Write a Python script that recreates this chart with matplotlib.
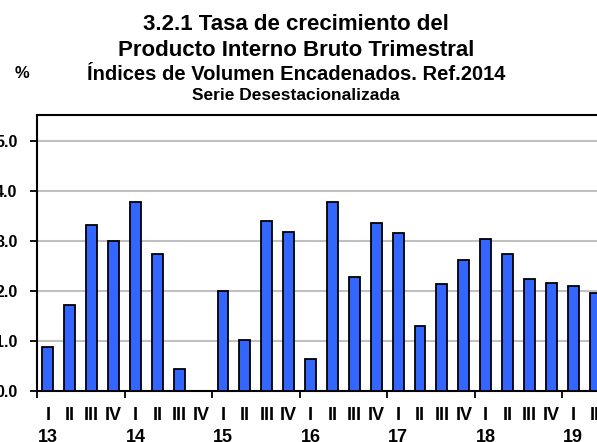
import numpy as np
import matplotlib
matplotlib.use("Agg")
import matplotlib.pyplot as plt
from matplotlib.transforms import blended_transform_factory

plt.rcParams['font.family'] = ['Liberation Sans', 'DejaVu Sans']
plt.rcParams['font.weight'] = 'bold'

# quarterly growth rate (%), 2013 Q1 .. 2019 Q2
quarters = ['I', 'II', 'III', 'IV'] * 6 + ['I', 'II']
years = ['13', '14', '15', '16', '17', '18', '19']
values = [0.89, 1.72, 3.32, 3.00,
          3.77, 2.73, 0.44, 0.00,
          2.00, 1.03, 3.39, 3.18,
          0.65, 3.77, 2.29, 3.35,
          3.15, 1.31, 2.14, 2.63,
          3.05, 2.73, 2.25, 2.17,
          2.11, 1.97]
yticks = [0.0, 1.0, 2.0, 3.0, 4.0, 5.0]

W, H = 597, 442
fig = plt.figure(figsize=(W / 100, H / 100), dpi=100)
ax = fig.add_axes([37 / W, 51 / H, 569 / W, 276 / H])

x = np.arange(len(values))
ax.bar(x, values, width=0.5, color='#3366ff', edgecolor='black', linewidth=1.3, zorder=3)

ax.set_xlim(-0.5, len(values) - 0.5)
ax.set_ylim(0, 5.52)

# y axis
ax.set_yticks(yticks)
ax.set_yticklabels(['%.1f' % v for v in yticks], fontsize=11.5, fontweight='bold')
ax.tick_params(axis='y', length=5, width=1.3, pad=9)
for v in yticks[1:]:
    ax.axhline(v, color='#c0c0c0', linewidth=1.5, zorder=1)

# x axis: year boundaries as tick marks, quarter labels under bars
ax.set_xticks(np.arange(-0.5, len(values), 4))
ax.set_xticklabels([])
ax.tick_params(axis='x', length=5, width=1.3, direction='out')
tr = blended_transform_factory(ax.transData, ax.transAxes)
for i, q in enumerate(quarters):
    ax.text(i, -25 / 276, q, transform=tr, ha='center', va='center',
            fontsize=13, fontweight='bold')
for k, yr in enumerate(years):
    ax.text(k * 4, -46 / 276, yr, transform=tr, ha='center', va='center',
            fontsize=13, fontweight='bold')

for side in ['left', 'bottom', 'top', 'right']:
    ax.spines[side].set_linewidth(1.5)
    ax.spines[side].set_color('black')

# titles
cx = 296 / W
fig.text(cx, 1 - 25 / H, '3.2.1 Tasa de crecimiento del', ha='center', va='center', fontsize=16, fontweight='bold')
fig.text(cx, 1 - 50 / H, 'Producto Interno Bruto Trimestral', ha='center', va='center', fontsize=16, fontweight='bold')
fig.text(cx, 1 - 74 / H, 'Índices de Volumen Encadenados. Ref.2014', ha='center', va='center', fontsize=14.5, fontweight='bold')
fig.text(cx, 1 - 96 / H, 'Serie Desestacionalizada', ha='center', va='center', fontsize=12.5, fontweight='bold')
fig.text(22 / W, 1 - 73 / H, '%', ha='center', va='center', fontsize=12, fontweight='bold')

fig.savefig('out.png', dpi=100)
